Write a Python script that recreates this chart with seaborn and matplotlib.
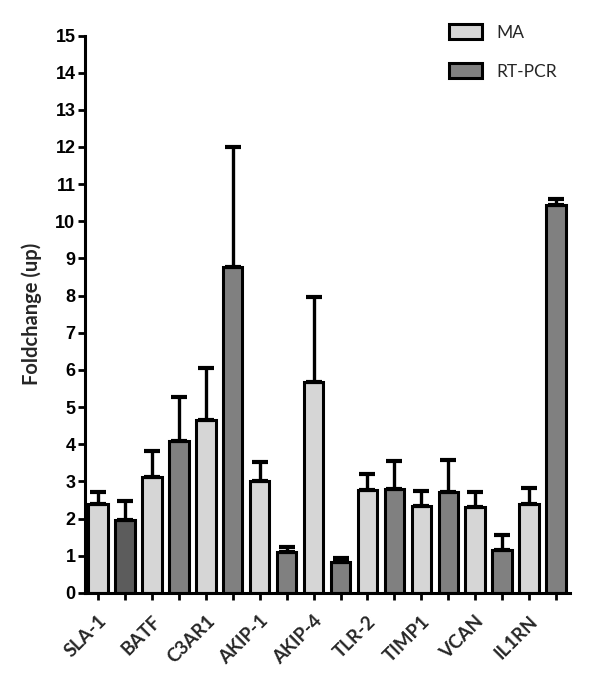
import matplotlib
matplotlib.use("Agg")
import matplotlib.pyplot as plt
from matplotlib.patches import Patch
import numpy as np
import pandas as pd
import seaborn as sns

genes = ["SLA-1", "BATF", "C3AR1", "AKIP-1", "AKIP-4", "TLR-2", "TIMP1", "VCAN", "IL1RN"]
methods = ["MA", "RT-PCR"]
ma_values = [2.40, 3.12, 4.64, 3.00, 5.68, 2.76, 2.33, 2.31, 2.40]
ma_errors = [0.32, 0.69, 1.42, 0.52, 2.27, 0.45, 0.42, 0.40, 0.43]
pcr_values = [1.97, 4.08, 8.76, 1.10, 0.83, 2.80, 2.72, 1.15, 10.45]
pcr_errors = [0.49, 1.20, 3.23, 0.14, 0.11, 0.76, 0.85, 0.42, 0.16]

COLORS = {"MA": "#d6d6d6", "RT-PCR": "#808080", "RT-PCR dark": "#5c5c5c"}

rows = []
for i, gene in enumerate(genes):
    rows.append({"bar": f"{gene} MA", "gene": gene, "method": "MA",
                 "value": ma_values[i], "err": ma_errors[i]})
    rows.append({"bar": f"{gene} RT-PCR", "gene": gene, "method": "RT-PCR",
                 "value": pcr_values[i], "err": pcr_errors[i]})
df = pd.DataFrame(rows)

bar_colors = [COLORS[m] for m in df["method"]]
bar_colors[1] = COLORS["RT-PCR dark"]  # first RT-PCR bar is shaded darker in the original

sns.set_theme(style="ticks")
plt.rcParams["font.family"] = ["Liberation Sans", "DejaVu Sans"]

fig = plt.figure(figsize=(6.0, 6.83), dpi=100)
ax = fig.add_axes([0.142, 0.132, 0.808, 0.816])

sns.barplot(data=df, x="bar", y="value", hue="bar", palette=bar_colors,
            dodge=False, width=0.72, edgecolor="black", linewidth=2.2,
            legend=False, errorbar=None, ax=ax)

xpos = np.arange(len(df))
ax.errorbar(xpos, df["value"], yerr=[np.zeros(len(df)), df["err"]], fmt="none",
            ecolor="black", elinewidth=2.4, capsize=5.5, capthick=3, zorder=1)

ax.set_ylim(0, 15)
ax.set_xlim(-0.48, len(df) - 0.48)
ax.set_yticks(range(0, 16))
# one tick per bar, gene names on minor ticks under each MA bar
ax.set_xticks(xpos, labels=[""] * len(xpos))
ax.set_xticks(xpos[::2] + 0.22, labels=genes, minor=True)
for lbl in ax.get_xticklabels(minor=True):
    lbl.set_rotation(45)
    lbl.set_ha("right")
    lbl.set_va("center")
    lbl.set_rotation_mode("anchor")
    lbl.set_fontfamily(["Lato", "DejaVu Sans"])
    lbl.set_fontweight("bold")
    lbl.set_fontsize(13.5)
for lbl in ax.get_yticklabels():
    lbl.set_fontweight("bold")
    lbl.set_fontsize(13)

ax.set_xlabel("")
ax.set_ylabel("Foldchange (up)", fontweight="bold", fontsize=14.5,
              fontfamily=["Lato", "DejaVu Sans"], labelpad=9.5)

sns.despine(ax=ax)
for side in ("left", "bottom"):
    ax.spines[side].set_linewidth(2.2)
    ax.spines[side].set_color("black")
ax.tick_params(axis="both", which="major", width=2.0, length=5, colors="black", pad=2)
ax.tick_params(axis="x", which="minor", length=0, pad=18.5)

handles = [Patch(facecolor=COLORS[m], edgecolor="black", linewidth=2.2, label=m) for m in methods]
ax.legend(handles=handles, loc="upper left", bbox_to_anchor=(0.719, 1.048), frameon=False,
          prop={"family": ["Lato", "DejaVu Sans"], "size": 12.5},
          handlelength=1.9, handleheight=0.95, labelspacing=1.3, handletextpad=0.8)

fig.savefig("out.png", dpi=100)
